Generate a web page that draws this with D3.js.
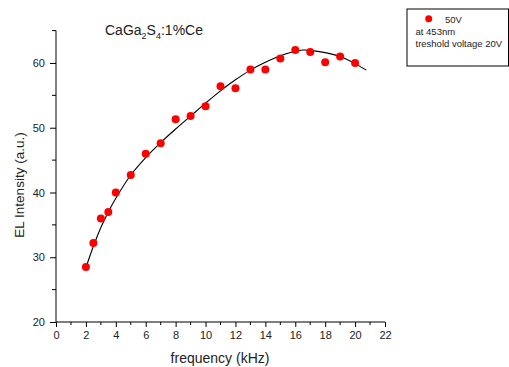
<!DOCTYPE html>
<html>
<head>
<meta charset="utf-8">
<script src="https://cdn.jsdelivr.net/npm/d3@7/dist/d3.min.js"></script>
<style>
  html, body { margin: 0; padding: 0; background: #fff; }
  svg { display: block; font-family: "Liberation Sans", Arial, sans-serif; }
</style>
</head>
<body>
<svg id="chart" width="509" height="367"></svg>
<script>
// ---- data ----
const frequency = [2, 2.5, 3, 3.5, 4, 5, 6, 7, 8, 9, 10, 11, 12, 13, 14, 15, 16, 17, 18, 19, 20];
const intensity = [28.5, 32.2, 36.0, 37.0, 40.0, 42.7, 46.0, 47.6, 51.3, 51.8, 53.3, 56.4, 56.1, 59.0, 59.0, 60.7, 62.0, 61.7, 60.1, 61.0, 60.0];
// fitted curve as drawn in the reference (sampled points)
const fitX = [2, 2.5, 3, 3.5, 4, 5, 6, 7, 8, 9, 10, 11, 12, 13, 14, 15, 16, 16.5, 17, 18, 19, 20, 20.75];
const fitY = [28.4, 31.7, 34.6, 37.0, 39.1, 42.7, 45.4, 47.7, 49.8, 51.8, 53.8, 55.7, 57.4, 58.9, 60.1, 61.1, 61.8, 62.0, 61.95, 61.6, 61.0, 59.9, 58.9];
const xTicks = [0, 2, 4, 6, 8, 10, 12, 14, 16, 18, 20, 22];
const yTicks = [20, 30, 40, 50, 60];
const legendLines = ["50V", "at 453nm", "treshold voltage 20V"];

const svg = d3.select("#chart");
const x = d3.scaleLinear().domain([0, 22]).range([56, 385]);
const y = d3.scaleLinear().domain([20, 65]).range([322, 30.6]);

// x axis
const xAxis = d3.axisBottom(x).tickValues(xTicks).tickSize(5).tickPadding(4).tickFormat(d3.format("d"));
const gx = svg.append("g").attr("transform", "translate(0,322)").call(xAxis);
gx.selectAll(".tick line").attr("stroke", "#000");
gx.select(".domain").attr("stroke", "#000").attr("d", `M${x(0)},0H${x(22)}`);
gx.selectAll("text").attr("font-size", 11).attr("fill", "#222").attr("font-family", "Liberation Sans, Arial, sans-serif");
// x minor ticks
const xMinor = d3.range(1, 22, 2);
svg.append("g").selectAll("line").data(xMinor).join("line")
  .attr("x1", d => x(d)).attr("x2", d => x(d)).attr("y1", 322).attr("y2", 325).attr("stroke", "#000");

// y axis
const yAxis = d3.axisLeft(y).tickValues(yTicks).tickSize(6).tickPadding(5).tickFormat(d3.format("d"));
const gy = svg.append("g").attr("transform", "translate(56,0)").call(yAxis);
gy.selectAll(".tick line").attr("stroke", "#000");
gy.select(".domain").attr("stroke", "#000").attr("d", `M0,${y(20)}V${y(65)}`);
gy.selectAll("text").attr("font-size", 11).attr("fill", "#222").attr("font-family", "Liberation Sans, Arial, sans-serif");
const yMinor = [25, 35, 45, 55, 65];
svg.append("g").selectAll("line").data(yMinor).join("line")
  .attr("x1", 52).attr("x2", 56).attr("y1", d => y(d)).attr("y2", d => y(d)).attr("stroke", "#000");

// fit curve
const fitData = fitX.map((v, i) => [v, fitY[i]]);
svg.append("path").datum(fitData)
  .attr("fill", "none").attr("stroke", "#000").attr("stroke-width", 1.1)
  .attr("d", d3.line().x(d => x(d[0])).y(d => y(d[1])).curve(d3.curveCatmullRom.alpha(0.5)));

// points
svg.append("g").selectAll("circle").data(frequency).join("circle")
  .attr("cx", d => x(d)).attr("cy", (d, i) => y(intensity[i])).attr("r", 4).attr("fill", "#ff0000");

// title with subscripts
const title = svg.append("text").attr("x", 105).attr("y", 35).attr("font-size", 14).attr("fill", "#222");
title.append("tspan").text("CaGa");
title.append("tspan").text("2").attr("font-size", 9).attr("dy", 4);
title.append("tspan").text("S").attr("dy", -4);
title.append("tspan").text("4").attr("font-size", 9).attr("dy", 4);
title.append("tspan").text(":1%Ce").attr("dy", -4);

// axis labels
svg.append("text").attr("x", 220).attr("y", 363).attr("text-anchor", "middle")
  .attr("font-size", 14).attr("fill", "#222").text("frequency (kHz)");
svg.append("text").attr("transform", "translate(23.5,185) rotate(-90)").attr("text-anchor", "middle")
  .attr("font-size", 13.5).attr("fill", "#222").text("EL Intensity (a.u.)");

// legend
const lg = svg.append("g");
lg.append("rect").attr("x", 407).attr("y", 9).attr("width", 101.5).attr("height", 57)
  .attr("fill", "#fff").attr("stroke", "#000").attr("stroke-width", 1);
lg.append("circle").attr("cx", 428.7).attr("cy", 18.7).attr("r", 3.5).attr("fill", "#ff0000");
lg.selectAll("text.lt").data(legendLines).join("text").attr("class", "lt")
  .attr("x", (d, i) => i === 0 ? 445 : 415.5)
  .attr("y", (d, i) => 22.5 + i * 12)
  .attr("font-size", 9.5).attr("fill", "#222").text(d => d);
</script>
</body>
</html>
